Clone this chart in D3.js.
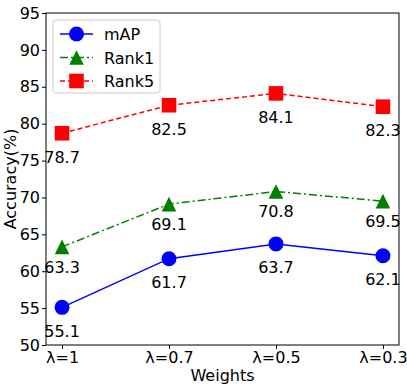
<!DOCTYPE html>
<html>
<head>
<meta charset="utf-8">
<script src="https://cdn.jsdelivr.net/npm/d3@7"></script>
<style>
  body { margin: 0; background: #fff; }
  text { font-family: "DejaVu Sans", sans-serif; }
</style>
</head>
<body>
<div id="chart"></div>
<script>
const weights = ["λ=1", "λ=0.7", "λ=0.5", "λ=0.3"];
const mAP = [55.1, 61.7, 63.7, 62.1];
const rank1 = [63.3, 69.1, 70.8, 69.5];
const rank5 = [78.7, 82.5, 84.1, 82.3];
const yTicks = [50, 55, 60, 65, 70, 75, 80, 85, 90, 95];

const w = 407;
const h = 387;
const plotLeft = 46, plotRight = 399, plotTop = 13, plotBottom = 345;

const svg = d3.select("#chart")
    .append("svg")
    .attr("width", w)
    .attr("height", h);

// matplotlib-style 5% margin on each side of the categories
const xScale = d3.scaleLinear()
    .domain([-0.15, weights.length - 1 + 0.15])
    .range([plotLeft, plotRight]);

const yScale = d3.scaleLinear()
    .domain([50, 95])
    .range([plotBottom, plotTop]);

const xAxis = d3.axisBottom(xScale)
    .tickValues(d3.range(weights.length))
    .tickFormat(i => weights[i])
    .tickSize(4)
    .tickPadding(3);

const yAxis = d3.axisLeft(yScale)
    .tickValues(yTicks)
    .tickSize(4)
    .tickPadding(2);

const gx = svg.append("g")
    .attr("transform", `translate(0, ${plotBottom})`)
    .call(xAxis);
const gy = svg.append("g")
    .attr("transform", `translate(${plotLeft}, 0)`)
    .call(yAxis);

[gx, gy].forEach(g => {
    g.select(".domain").remove();
    g.selectAll("text").style("font-size", "16px").attr("fill", "#000");
    g.selectAll("line").attr("stroke", "#000");
});

// frame
svg.append("rect")
    .attr("x", plotLeft)
    .attr("y", plotTop)
    .attr("width", plotRight - plotLeft)
    .attr("height", plotBottom - plotTop)
    .attr("fill", "none")
    .attr("stroke", "#000")
    .attr("stroke-width", 1);

svg.append("text")
    .attr("transform", "rotate(-90)")
    .attr("x", -(plotTop + plotBottom) / 2)
    .attr("y", 16)
    .attr("text-anchor", "middle")
    .style("font-size", "16px")
    .text("Accuracy(%)");

svg.append("text")
    .attr("x", (plotLeft + plotRight) / 2)
    .attr("y", 381)
    .attr("text-anchor", "middle")
    .style("font-size", "16px")
    .text("Weights");

const series = [
    { name: "mAP", values: mAP, color: "#0000ff", dash: null, marker: "circle", offset: 4 },
    { name: "Rank1", values: rank1, color: "#008000", dash: "8,3,2,3", marker: "triangle", offset: 3.5 },
    { name: "Rank5", values: rank5, color: "#ff0000", dash: "5,3", marker: "square", offset: 4 }
];

// marker half-size, like matplotlib markersize / 2
const ms = 7.3;
const markerPath = {
    circle: d3.symbol().type(d3.symbolCircle).size(Math.PI * 7.5 * 7.5)(),
    square: `M${-ms},${-ms}H${ms}V${ms}H${-ms}Z`,
    triangle: `M0,${-ms}L${ms},${ms}L${-ms},${ms}Z`
};

function drawMarker(g, s, x, y) {
    g.append("path")
        .attr("d", markerPath[s.marker])
        .attr("transform", `translate(${x}, ${y})`)
        .attr("fill", s.color);
}

const line = d3.line()
    .x((d, i) => xScale(i))
    .y(d => yScale(d));

series.forEach(s => {
    svg.append("path")
        .datum(s.values)
        .attr("d", line)
        .attr("fill", "none")
        .attr("stroke", s.color)
        .attr("stroke-width", 1.5)
        .attr("stroke-dasharray", s.dash);

    s.values.forEach((v, i) => {
        drawMarker(svg, s, xScale(i), yScale(v));
        svg.append("text")
            .attr("x", xScale(i))
            .attr("y", yScale(v - s.offset))
            .attr("text-anchor", "middle")
            .style("font-size", "16px")
            .text(v.toFixed(1));
    });
});

// legend
const legend = svg.append("g");
legend.append("rect")
    .attr("x", 53)
    .attr("y", 20)
    .attr("width", 107)
    .attr("height", 73)
    .attr("rx", 3)
    .attr("fill", "#fff")
    .attr("fill-opacity", 0.8)
    .attr("stroke", "#cccccc");

series.forEach((s, i) => {
    const y = 34 + i * 23.5;
    legend.append("line")
        .attr("x1", 60).attr("x2", 93)
        .attr("y1", y).attr("y2", y)
        .attr("stroke", s.color)
        .attr("stroke-width", 1.5)
        .attr("stroke-dasharray", s.dash);
    drawMarker(legend, s, 76.5, y);
    legend.append("text")
        .attr("x", 104)
        .attr("y", y + 6)
        .style("font-size", "16px")
        .text(s.name);
});
</script>
</body>
</html>
